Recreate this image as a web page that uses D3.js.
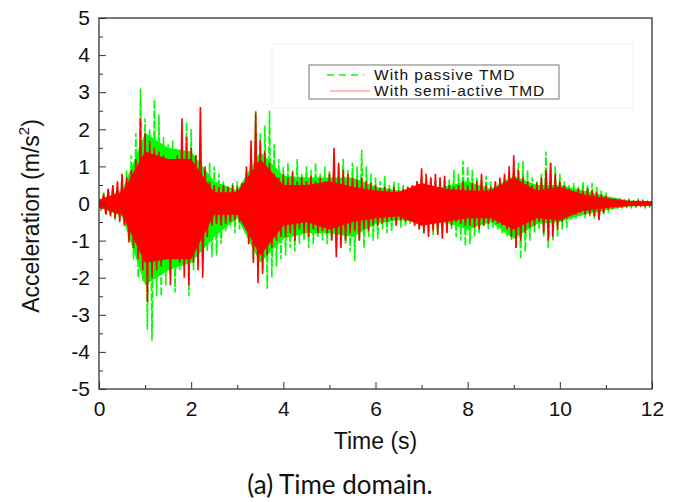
<!DOCTYPE html>
<html lang="en">
<head>
    <meta charset="UTF-8">
    <title>Time domain</title>
    <style>
        body {
            margin: 0;
            padding: 0;
            background-color: #fff;
        }
        .tick text {
            font-family: 'Liberation Sans', Arial, sans-serif;
            font-size: 21px;
            fill: #111;
        }
        .axis-title {
            font-family: 'Liberation Sans', Arial, sans-serif;
            font-size: 23px;
            fill: #111;
        }
        .legend-text {
            font-family: 'Liberation Sans', Arial, sans-serif;
            font-size: 15.5px;
            letter-spacing: 1px;
            fill: #111;
        }
        .caption {
            font-family: 'Lato', sans-serif;
            font-size: 26px;
            fill: #111;
        }
    </style>
</head>
<body>
    <svg id="chart"></svg>

    <script src="https://d3js.org/d3.v7.min.js"></script>
    <script>
        // Data: peak values, one every 0.05 s (m/s^2),
        // alternating upper and lower peaks
        const sampleStep = 0.05;

        const passive = [
            0.15, -0.2, 0.3, -0.25, 0.35, -0.3, 0.4, -0.45, 0.35, -0.4, 0.6, -0.55, 0.9, -1.0, 1.3, -1.5, 1.9, -2.0, 3.1, -2.1,
            2.3, -3.4, 2.0, -3.7, 2.8, -2.5, 2.4, -2.5, 1.8, -2.2, 1.6, -1.9, 1.7, -2.4, 1.3, -1.8, 1.6, -1.7, 2.2, -2.5,
            2.0, -1.8, 1.3, -1.6, 1.2, -1.5, 0.9, -1.3, 1.1, -1.45, 1.0, -1.4, 0.8, -1.1, 0.6, -0.75, 0.45, -0.6, 0.55, -0.8,
            0.6, -0.7, 0.5, -0.65, 0.9, -1.0, 1.3, -1.5, 2.5, -2.0, 1.9, -1.8, 2.1, -2.3, 2.5, -2.0, 1.6, -1.7, 1.2, -1.5,
            1.0, -1.4, 1.1, -1.2, 0.9, -1.3, 1.2, -1.1, 0.8, -1.0, 1.0, -1.2, 0.9, -1.1, 1.1, -0.9, 0.8, -1.0, 1.0, -1.1,
            0.9, -1.0, 1.1, -1.2, 1.0, -0.9, 1.2, -1.1, 0.9, -1.3, 1.1, -1.55, 1.0, -1.0, 1.45, -1.2, 1.0, -0.9, 0.8, -1.0,
            0.7, -0.95, 0.6, -0.7, 0.75, -0.8, 0.5, -0.75, 0.6, -0.6, 0.55, -0.65, 0.5, -0.6, 0.45, -0.55, 0.5, -0.6, 0.6, -0.7,
            0.7, -0.8, 0.6, -0.75, 0.7, -0.85, 0.6, -0.8, 0.7, -0.7, 0.6, -0.75, 0.65, -0.7, 0.9, -0.9, 0.8, -1.0, 1.15, -1.15,
            1.0, -1.1, 0.9, -0.9, 0.7, -0.8, 0.65, -0.6, 0.75, -0.7, 0.6, -0.65, 0.55, -0.7, 0.6, -0.8, 0.7, -0.9, 0.8, -1.0,
            0.9, -1.2, 1.1, -1.5, 1.15, -1.3, 0.9, -1.0, 0.7, -0.8, 0.6, -0.7, 0.8, -0.9, 1.4, -1.2, 1.1, -1.0, 1.0, -0.9,
            0.8, -0.7, 0.6, -0.65, 0.5, -0.45, 0.55, -0.4, 0.45, -0.35, 0.6, -0.4, 0.5, -0.35, 0.55, -0.4, 0.45, -0.3, 0.35, -0.3,
            0.3, -0.25, 0.15, -0.15, 0.12, -0.1, 0.1, -0.1, 0.1, -0.08, 0.1, -0.1, 0.08, -0.08, 0.1, -0.08, 0.08, -0.1, 0.08, -0.08,
            0.05
        ];

        const semiActive = [
            0.1, -0.15, 0.25, -0.3, 0.4, -0.35, 0.5, -0.4, 0.6, -0.5, 0.8, -0.6, 0.7, -1.05, 0.9, -1.2, 1.2, -1.5, 2.3, -1.8,
            1.9, -2.65, 1.7, -2.0, 1.5, -1.8, 1.4, -1.7, 1.3, -1.5, 1.2, -2.2, 1.1, -1.5, 1.3, -1.6, 2.3, -2.0, 1.8, -2.2,
            1.5, -1.6, 1.3, -1.8, 2.6, -2.0, 1.0, -0.9, 0.6, -0.6, 0.5, -0.55, 0.45, -0.6, 0.5, -0.55, 0.45, -0.5, 0.5, -0.45,
            0.45, -0.5, 0.55, -0.6, 1.0, -1.1, 1.7, -1.6, 2.45, -2.15, 1.7, -1.9, 1.4, -1.4, 1.1, -1.2, 0.8, -1.0, 0.7, -0.9,
            0.8, -0.9, 0.7, -0.8, 0.85, -1.0, 0.6, -0.7, 0.7, -0.8, 0.6, -0.9, 0.75, -0.7, 0.6, -0.8, 0.7, -0.75, 0.6, -0.8,
            0.8, -1.0, 1.5, -1.45, 1.1, -1.2, 0.9, -1.0, 0.8, -0.8, 0.7, -0.75, 0.65, -1.0, 0.7, -0.7, 0.6, -0.75, 0.55, -0.6,
            0.5, -0.6, 0.4, -0.55, 0.45, -0.5, 0.4, -0.45, 0.45, -0.6, 0.35, -0.45, 0.4, -0.5, 0.45, -0.45, 0.5, -0.6, 0.6, -0.7,
            0.95, -0.8, 0.8, -0.9, 0.7, -0.75, 0.8, -0.85, 0.7, -0.95, 0.75, -0.8, 0.5, -0.6, 0.45, -0.5, 0.5, -0.55, 0.6, -0.6,
            0.5, -0.6, 0.55, -0.65, 0.6, -0.7, 0.8, -0.6, 0.5, -0.55, 0.45, -0.5, 0.6, -0.55, 0.7, -0.6, 0.8, -0.7, 1.0, -0.9,
            1.3, -1.2, 0.9, -1.0, 0.7, -0.8, 0.6, -0.65, 0.5, -0.6, 0.55, -0.5, 0.7, -0.8, 0.9, -1.0, 1.1, -0.9, 0.8, -0.7,
            0.6, -0.5, 0.5, -0.4, 0.4, -0.3, 0.35, -0.3, 0.4, -0.25, 0.35, -0.3, 0.4, -0.3, 0.35, -0.35, 0.3, -0.45, 0.25, -0.25,
            0.2, -0.15, 0.12, -0.1, 0.1, -0.08, 0.08, -0.08, 0.07, -0.07, 0.08, -0.06, 0.06, -0.07, 0.07, -0.06, 0.06, -0.06, 0.05, -0.05,
            0.03
        ];

        // Extent of the solid (densely filled) part of each record, read every 0.5 s
        const coreTimes = [0, 0.5, 1, 1.5, 2, 2.5, 3, 3.5, 4, 4.5, 5, 5.5, 6, 6.5, 7, 7.5, 8, 8.5, 9, 9.5, 10, 10.5, 11, 11.5, 12];
        const passiveCoreHi = [0.1, 0.35, 1.9, 1.5, 1.4, 0.6, 0.35, 1.4, 0.75, 0.7, 0.7, 0.7, 0.45, 0.35, 0.4, 0.45, 0.6, 0.4, 0.75, 0.5, 0.5, 0.35, 0.2, 0.08, 0.06];
        const passiveCoreLo = [-0.1, -0.35, -2.2, -1.8, -1.6, -0.9, -0.4, -1.6, -0.95, -0.8, -0.8, -0.9, -0.55, -0.45, -0.5, -0.5, -0.7, -0.5, -0.95, -0.55, -0.5, -0.3, -0.18, -0.08, -0.06];
        const semiCoreHi = [0.1, 0.3, 1.4, 1.2, 1.2, 0.3, 0.3, 1.2, 0.5, 0.5, 0.6, 0.45, 0.35, 0.3, 0.55, 0.4, 0.35, 0.35, 0.7, 0.35, 0.45, 0.25, 0.15, 0.07, 0.06];
        const semiCoreLo = [-0.1, -0.3, -1.6, -1.5, -1.5, -0.3, -0.3, -1.4, -0.6, -0.5, -0.7, -0.5, -0.4, -0.35, -0.6, -0.5, -0.4, -0.4, -0.7, -0.4, -0.45, -0.2, -0.12, -0.07, -0.06];

        const xTicks = [0, 2, 4, 6, 8, 10, 12];
        const yTicks = [-5, -4, -3, -2, -1, 0, 1, 2, 3, 4, 5];
        const legendLabels = ['With passive TMD', 'With semi-active TMD'];

        // Dimensions
        const width = 681;
        const height = 502;
        const margin = { top: 18, right: 29, bottom: 113, left: 99 };
        const plotW = width - margin.left - margin.right;
        const plotH = height - margin.top - margin.bottom;

        const svg = d3.select('#chart')
            .attr('width', width)
            .attr('height', height);

        const g = svg.append('g')
            .attr('transform', `translate(${margin.left},${margin.top})`);

        const x = d3.scaleLinear().domain([0, 12]).range([0, plotW]);
        const y = d3.scaleLinear().domain([-5, 5]).range([plotH, 0]);

        g.append('defs').append('clipPath').attr('id', 'clip')
            .append('rect').attr('width', plotW).attr('height', plotH);

        const core = d3.area()
            .x(d => x(d.t))
            .y0(d => y(d.lo))
            .y1(d => y(d.hi));

        const line = d3.line()
            .x((d, i) => x(i * sampleStep))
            .y(d => y(d));

        const series = [
            { values: passive, hi: passiveCoreHi, lo: passiveCoreLo, color: '#00ff00', dash: '8,2' },
            { values: semiActive, hi: semiCoreHi, lo: semiCoreLo, color: '#ff0000', dash: null }
        ];

        // Passive first, semi-active drawn over it
        series.forEach(s => {
            const layer = g.append('g').attr('clip-path', 'url(#clip)');
            layer.append('path')
                .datum(coreTimes.map((t, i) => ({ t, hi: s.hi[i], lo: s.lo[i] })))
                .attr('fill', s.color)
                .attr('d', core);
            layer.append('path')
                .datum(s.values)
                .attr('fill', 'none')
                .attr('stroke', s.color)
                .attr('stroke-width', 1.6)
                .attr('stroke-dasharray', s.dash)
                .attr('d', line);
        });

        // Axes, ticks pointing inward; plain hyphen for negatives
        const fmt = d => String(d);
        g.append('g')
            .attr('transform', `translate(0,${plotH})`)
            .call(d3.axisBottom(x).tickValues(xTicks).tickSize(-7).tickPadding(12).tickFormat(fmt));
        g.append('g')
            .attr('transform', `translate(0,${plotH})`)
            .call(d3.axisBottom(x).tickValues(d3.range(1, 12, 2)).tickSize(-4).tickFormat(''));

        g.append('g')
            .call(d3.axisLeft(y).tickValues(yTicks).tickSize(-7).tickPadding(9).tickFormat(fmt));
        g.append('g')
            .call(d3.axisLeft(y).tickValues(d3.range(-4.5, 5, 1)).tickSize(-4).tickFormat(''));

        g.selectAll('.domain').remove();
        g.selectAll('.tick line').attr('stroke', '#333').attr('stroke-width', 1);

        // Frame
        g.append('rect')
            .attr('width', plotW)
            .attr('height', plotH)
            .attr('fill', 'none')
            .attr('stroke', '#333')
            .attr('stroke-width', 1.3);

        // Legend
        svg.append('rect')
            .attr('x', 272).attr('y', 44).attr('width', 361).attr('height', 64)
            .attr('fill', 'none').attr('stroke', '#f2f2f2');

        svg.append('rect')
            .attr('x', 309).attr('y', 65).attr('width', 250).attr('height', 34)
            .attr('fill', '#fff').attr('stroke', '#777').attr('stroke-width', 1);

        svg.append('line')
            .attr('x1', 327).attr('x2', 364).attr('y1', 75).attr('y2', 75)
            .attr('stroke', '#00ff00').attr('stroke-width', 1.5)
            .attr('stroke-dasharray', '7,5');
        svg.append('line')
            .attr('x1', 330).attr('x2', 370).attr('y1', 91).attr('y2', 91)
            .attr('stroke', '#ff0000').attr('stroke-width', 1.2)
            .attr('stroke-opacity', 0.5);

        svg.selectAll('.legend-text')
            .data(legendLabels)
            .enter()
            .append('text')
            .attr('class', 'legend-text')
            .attr('x', 374)
            .attr('y', (d, i) => 80 + i * 16)
            .text(d => d);

        // Axis titles
        svg.append('text')
            .attr('class', 'axis-title')
            .attr('x', margin.left + x(6))
            .attr('y', 449)
            .attr('font-size', 24)
            .attr('text-anchor', 'middle')
            .text('Time (s)');

        const yTitle = svg.append('text')
            .attr('class', 'axis-title')
            .attr('transform', 'translate(39,216) rotate(-90)')
            .attr('text-anchor', 'middle');
        yTitle.append('tspan').text('Acceleration (m/s');
        yTitle.append('tspan').attr('dy', -10).attr('font-size', 15).text('2');
        yTitle.append('tspan').attr('dy', 10).text(')');

        svg.append('text')
            .attr('class', 'caption')
            .attr('x', 340)
            .attr('y', 494)
            .attr('text-anchor', 'middle')
            .text('(a) Time domain.');
    </script>
</body>
</html>
